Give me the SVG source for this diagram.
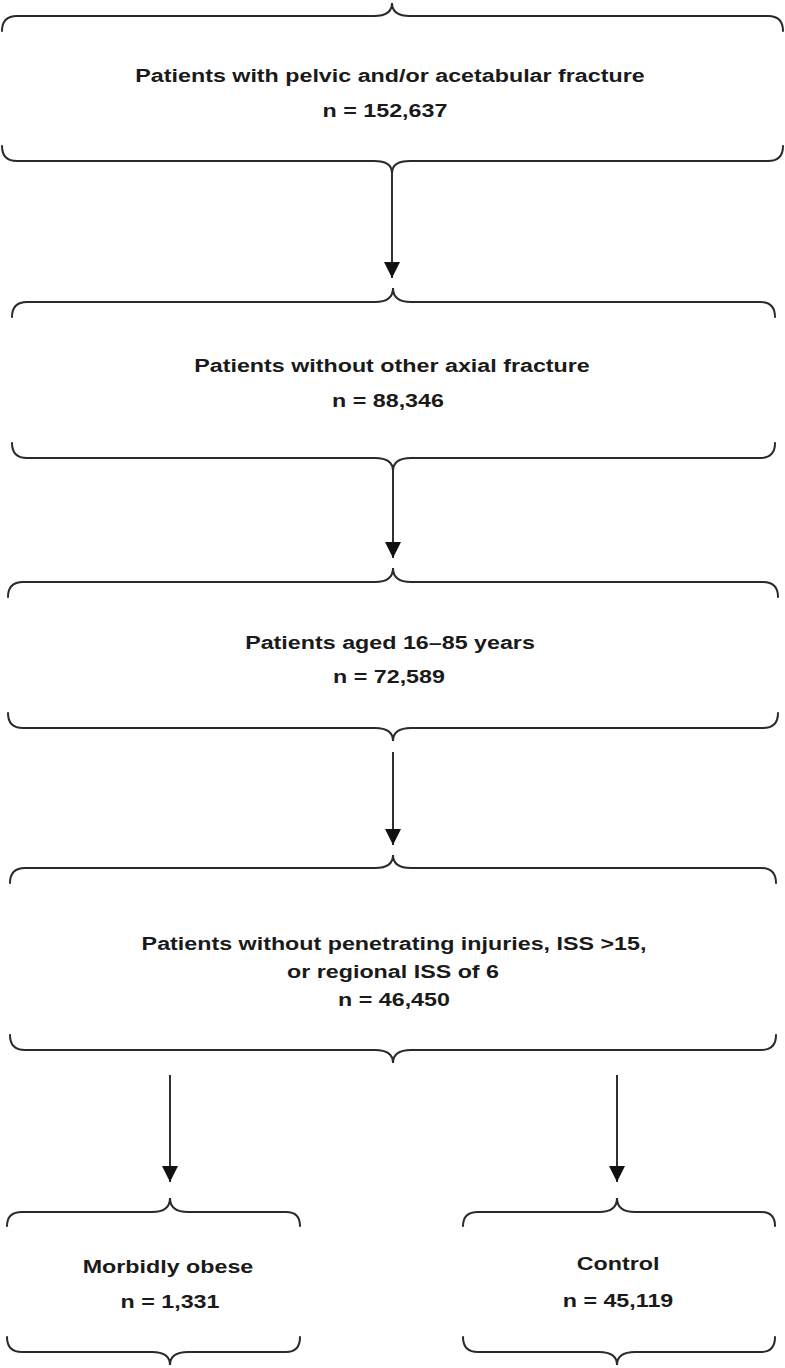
<svg xmlns="http://www.w3.org/2000/svg" width="785" height="1368" viewBox="0 0 785 1368">
<style>
.br{fill:none;stroke:#2a2a2a;stroke-width:2;stroke-linecap:round}
.ln{fill:none;stroke:#1a1a1a;stroke-width:1.8}
.t{font-family:"Liberation Sans",Arial,sans-serif;font-weight:bold;font-size:19px;fill:#1a1a1a;text-anchor:middle}
</style>
<defs>
<marker id="ah" markerUnits="userSpaceOnUse" markerWidth="18" markerHeight="18" viewBox="0 0 18 18" refX="16" refY="9" orient="auto">
<path d="M0,1 L16,9 L0,17 Z" fill="#111"/>
</marker>
</defs>
<g id="n1">
<path class="br" d="M2,31 Q2,16 17,16 L374,16 Q392,16 392,3 Q392,16 410,16 L768,16 Q783,16 783,31"/>
<path class="br" d="M2,146 Q2,161 17,161 L374,161 Q392,161 392,173 Q392,161 410,161 L768,161 Q783,161 783,146"/>
<text class="t" transform="translate(390,82) scale(1.225,1)">Patients with pelvic and/or acetabular fracture</text>
<text class="t" transform="translate(385,117) scale(1.225,1)">n = 152,637</text>
</g>
<g id="n2">
<path class="br" d="M12,317 Q12,302 27,302 L375,302 Q393,302 393,288 Q393,302 411,302 L760,302 Q775,302 775,317"/>
<path class="br" d="M12,443 Q12,458 27,458 L375,458 Q393,458 393,471 Q393,458 411,458 L760,458 Q775,458 775,443"/>
<text class="t" transform="translate(392,372) scale(1.225,1)">Patients without other axial fracture</text>
<text class="t" transform="translate(388,407) scale(1.225,1)">n = 88,346</text>
</g>
<g id="n3">
<path class="br" d="M8,597 Q8,582 23,582 L375,582 Q393,582 393,568 Q393,582 411,582 L763,582 Q778,582 778,597"/>
<path class="br" d="M8,713 Q8,728 23,728 L375,728 Q393,728 393,741 Q393,728 411,728 L763,728 Q778,728 778,713"/>
<text class="t" transform="translate(390,649) scale(1.225,1)">Patients aged 16–85 years</text>
<text class="t" transform="translate(389,683) scale(1.225,1)">n = 72,589</text>
</g>
<g id="n4">
<path class="br" d="M10,883 Q10,868 25,868 L375,868 Q393,868 393,855 Q393,868 411,868 L761,868 Q776,868 776,883"/>
<path class="br" d="M10,1035 Q10,1050 25,1050 L375,1050 Q393,1050 393,1063 Q393,1050 411,1050 L761,1050 Q776,1050 776,1035"/>
<text class="t" transform="translate(394,950) scale(1.225,1)">Patients without penetrating injuries, ISS &gt;15,</text>
<text class="t" transform="translate(393,978) scale(1.225,1)">or regional ISS of 6</text>
<text class="t" transform="translate(394,1006) scale(1.225,1)">n = 46,450</text>
</g>
<g id="n5">
<path class="br" d="M7,1226 Q7,1212 22,1212 L152,1212 Q170,1212 170,1198 Q170,1212 188,1212 L286,1212 Q300,1212 300,1226"/>
<path class="br" d="M7,1337 Q7,1352 22,1352 L152,1352 Q170,1352 170,1365 Q170,1352 188,1352 L286,1352 Q300,1352 300,1337"/>
<text class="t" transform="translate(168,1273) scale(1.225,1)">Morbidly obese</text>
<text class="t" transform="translate(170,1308) scale(1.225,1)">n = 1,331</text>
</g>
<g id="n6">
<path class="br" d="M463,1226 Q463,1212 478,1212 L599,1212 Q617,1212 617,1198 Q617,1212 635,1212 L761,1212 Q775,1212 775,1226"/>
<path class="br" d="M463,1337 Q463,1352 478,1352 L599,1352 Q617,1352 617,1365 Q617,1352 635,1352 L761,1352 Q775,1352 775,1337"/>
<text class="t" transform="translate(618,1270) scale(1.225,1)">Control</text>
<text class="t" transform="translate(618,1307) scale(1.225,1)">n = 45,119</text>
</g>
<g id="connectors">
<path class="ln" d="M392,173 L392,278" marker-end="url(#ah)"/>
<path class="ln" d="M393,471 L393,558" marker-end="url(#ah)"/>
<path class="ln" d="M393,752 L393,845" marker-end="url(#ah)"/>
<path class="ln" d="M170,1075 L170,1182" marker-end="url(#ah)"/>
<path class="ln" d="M617,1075 L617,1182" marker-end="url(#ah)"/>
</g>
</svg>
